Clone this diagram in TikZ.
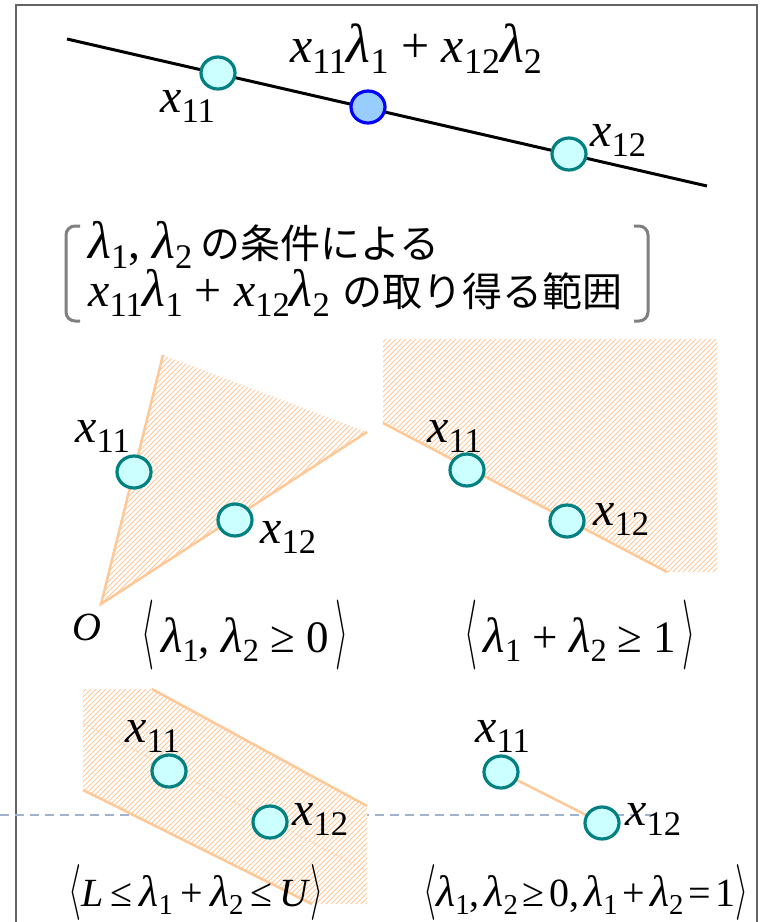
\documentclass[tikz,border=0pt]{standalone}
\usepackage{fontspec}
\usepackage{graphicx}
\setmainfont{Liberation Serif}
\newfontfamily\jpf{Noto Sans CJK JP}
\usetikzlibrary{shapes.geometric}
\definecolor{teal2}{RGB}{0,128,128}
\definecolor{cyanfill}{RGB}{204,255,255}
\definecolor{bluefill}{RGB}{153,204,255}
\definecolor{edgeor}{RGB}{255,200,150}
\definecolor{hatchor}{RGB}{255,200,155}
\definecolor{dashbl}{RGB}{160,178,205}
\definecolor{framegr}{RGB}{100,100,100}
\definecolor{brkgr}{RGB}{128,128,128}
\newcommand\V[1]{\textit{#1}}
\newcommand\Sb[1]{\raisebox{-0.22em}{\scalebox{0.72}{#1}}}
\newcommand\LA[1]{\resizebox*{13pt}{#1}{$\langle$}}
\newcommand\RA[1]{\resizebox*{13pt}{#1}{$\rangle$}}
\newcommand\lam{\scalebox{1.1}{\V{λ}}}
\newcommand\hs{\hspace{0.12em}}
\newcommand\hm{\hspace{0.18em}}
\begin{document}
\begin{tikzpicture}[x=1pt,y=-1pt,
  pt/.style={ellipse,draw=teal2,fill=cyanfill,line width=3.2pt,minimum width=34pt,minimum height=32pt,inner sep=0pt},
  ptb/.style={pt,draw=blue,fill=bluefill},
  lbl/.style={inner sep=0pt,anchor=base west,font=\fontsize{48}{50}\selectfont},
  frm/.style={inner sep=0pt,anchor=base,font=\fontsize{45}{50}\selectfont},
  frs/.style={inner sep=0pt,anchor=base,font=\fontsize{40}{44}\selectfont},
  edge/.style={draw=edgeor,line width=2.5pt},
  hl/.style={draw=hatchor,line width=0.9pt},
  brk/.style={draw=brkgr,line width=3pt,rounded corners=9pt},
  dsh/.style={draw=dashbl,line width=1.6pt,dash pattern=on 9pt off 6pt}]
\useasboundingbox (0,0) rectangle (762,922);
% frame
\draw[framegr,line width=1.5pt] (16,930) -- (16,5) -- (757,5) -- (757,930);
% dashed horizontal
\coordinate (dA) at (0,815);
\coordinate (dB) at (655,815);
\draw[dsh] (dA) -- (dB);
% ---- top line ----
\coordinate (t1) at (67,39);
\coordinate (t2) at (707,186);
\draw[line width=3pt] (t1) -- (t2);
\node[pt] (a11) at (218,73) {};
\node[ptb] (am) at (368,107) {};
\node[pt] (a12) at (569,154) {};
\node[lbl] (la11) at (160,112) {\V{x}\Sb{11}};
\node[lbl] (la12) at (590,146) {\V{x}\Sb{12}};
\node[frm,font=\fontsize{50}{52}\selectfont] (lam) at (416,62) {\V{x}\Sb{11}\lam\Sb{1} + \V{x}\Sb{12}\lam\Sb{2}};
% ---- bracket block ----
\draw[brk] (80,226) -- (66,226) -- (66,321) -- (80,321);
\draw[brk] (634,226) -- (648,226) -- (648,321) -- (634,321);
\node[lbl,font=\fontsize{48}{50}\selectfont] (c1) at (88,258) {\lam\Sb{1}, \lam\Sb{2}\,{\jpf\fontsize{40}{42}\selectfont の条件による}};
\node[lbl,font=\fontsize{48}{50}\selectfont] (c2) at (88,306) {\V{x}\Sb{11}\lam\Sb{1} + \V{x}\Sb{12}\lam\Sb{2} {\jpf\fontsize{40}{42}\selectfont の取り得る範囲}};
% ---- middle left ----
\coordinate (O) at (101,604);
\coordinate (Ot) at (163,355);
\coordinate (Or) at (367,432);
\begin{scope}
\clip (O) -- (Ot) -- (Or) -- cycle;
\foreach \k in {-950,-945,...,770} \draw[hl] (\k,950) -- (\k+950,0);
\end{scope}
\draw[edge] (Ot) -- (O) -- (Or);
\node[pt] (b11) at (134,472) {};
\node[pt] (b12) at (235,520) {};
\node[lbl] (lb11) at (75,442) {\V{x}\Sb{11}};
\node[lbl] (lb12) at (260,543) {\V{x}\Sb{12}};
\node[lbl,font=\fontsize{40}{42}\selectfont] (lO) at (72,640) {\V{O}};
\node[frm] (fb) at (245,652) {\LA{70pt}\hspace{0.14em}\lam\Sb{1}, \lam\Sb{2} ≥ 0\hspace{0.14em}\RA{70pt}};
% ---- middle right ----
\coordinate (c1a) at (383,423);
\coordinate (c1b) at (667,572);
\begin{scope}
\clip (383,339) -- (717,339) -- (717,572) -- (c1b) -- (c1a) -- cycle;
\foreach \k in {-950,-945,...,770} \draw[hl] (\k,950) -- (\k+950,0);
\end{scope}
\draw[edge] (c1a) -- (c1b);
\node[pt] (r11) at (467,470) {};
\node[pt] (r12) at (567,521) {};
\node[lbl] (lr11) at (427,442) {\V{x}\Sb{11}};
\node[lbl] (lr12) at (593,525) {\V{x}\Sb{12}};
\node[frm] (fr) at (580,652) {\LA{70pt}\hspace{0.14em}\lam\Sb{1} + \lam\Sb{2} ≥ 1\hspace{0.14em}\RA{70pt}};
% ---- bottom left ----
\coordinate (u1) at (152,689);
\coordinate (u2) at (367,806);
\coordinate (w1) at (83,790);
\coordinate (w2) at (312,904);
\coordinate (m1) at (83,723);
\coordinate (m2) at (367,871);
\fill[white] (83,689) -- (u1) -- (u2) -- (367,904) -- (w2) -- (w1) -- cycle;
\begin{scope}
\clip (83,689) -- (u1) -- (u2) -- (367,904) -- (w2) -- (w1) -- cycle;
\foreach \k in {-950,-945,...,770} \draw[hl] (\k,950) -- (\k+950,0);
\end{scope}
\draw[edgeor!80,line width=1.2pt,dash pattern=on 2pt off 3pt] (m1) -- (m2);
\draw[edge] (u1) -- (u2);
\draw[edge] (w1) -- (w2);
\node[pt] (s11) at (169,771) {};
\node[pt] (s12) at (270,822) {};
\node[lbl] (ls11) at (125,742) {\V{x}\Sb{11}};
\node[lbl] (ls12) at (292,825) {\V{x}\Sb{12}};
\node[frs] (fs) at (196,906) {\LA{56pt}\V{L}\hm≤\hm\lam\Sb{1}\hm+\hm\lam\Sb{2}\hm≤\hm\V{U}\RA{56pt}};
% ---- bottom right ----
\coordinate (q1) at (501,772);
\coordinate (q2) at (602,823);
\draw[edge] (q1) -- (q2);
\node[pt] (q11) at (q1) {};
\node[pt] (q12) at (q2) {};
\node[lbl] (lq11) at (475,742) {\V{x}\Sb{11}};
\node[lbl] (lq12) at (625,825) {\V{x}\Sb{12}};
\node[frs] (fq) at (586,906) {\LA{56pt}\lam\Sb{1},\hs\lam\Sb{2}\hs≥\hs0,\hs\lam\Sb{1}\hs+\hs\lam\Sb{2}\hs=\hs1\RA{56pt}};
\end{tikzpicture}
\end{document}
